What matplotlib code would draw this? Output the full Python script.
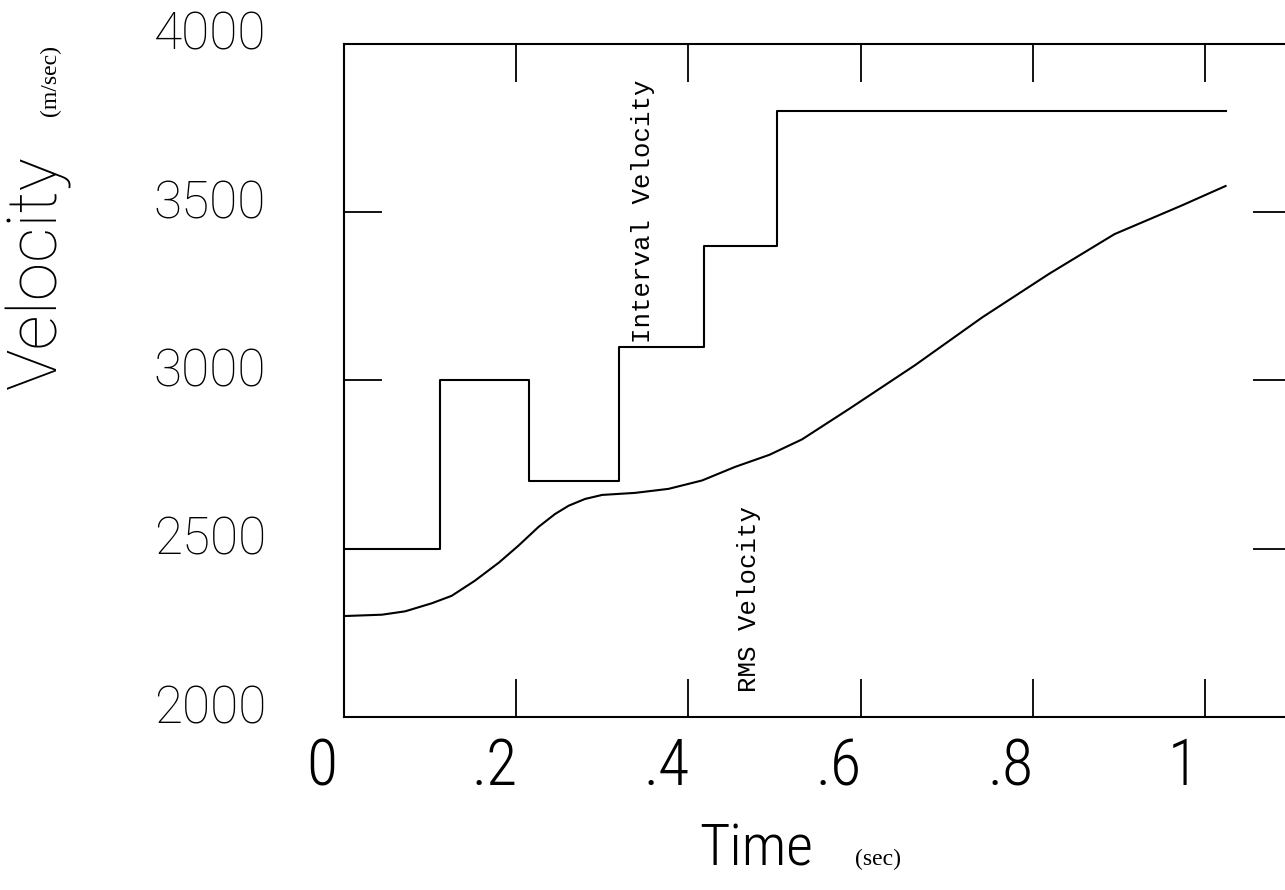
import os
import matplotlib
matplotlib.use("Agg")
import matplotlib.pyplot as plt
import matplotlib.transforms as mtransforms
from matplotlib import font_manager as fm

# ---------------- data ----------------
interval_time = [0.0, 0.112, 0.215, 0.320, 0.418, 0.503, 1.025]
interval_velocity = [2500, 3000, 2700, 3100, 3400, 3800, 3800]

rms_time = [0.0, 0.044, 0.071, 0.102, 0.125, 0.152, 0.180, 0.203, 0.226,
            0.245, 0.261, 0.280, 0.300, 0.338, 0.377, 0.416, 0.454, 0.494,
            0.532, 0.587, 0.663, 0.741, 0.819, 0.895, 0.973, 1.024]
rms_velocity = [2300, 2304, 2314, 2338, 2360, 2405, 2459, 2510, 2565,
                2603, 2628, 2648, 2660, 2666, 2678, 2703, 2743, 2779,
                2825, 2916, 3045, 3187, 3317, 3435, 3520, 3578]

x_ticks = [0, 0.2, 0.4, 0.6, 0.8, 1.0]
x_tick_labels = ["0", ".2", ".4", ".6", ".8", "1"]
y_ticks = [2000, 2500, 3000, 3500, 4000]
y_tick_labels = ["2000", "2500", "3000", "3500", "4000"]


# ---------------- fonts ----------------
def pick_font(basenames, fallback="DejaVu Sans"):
    files = {}
    for f in fm.fontManager.ttflist:
        b = os.path.splitext(os.path.basename(f.fname))[0]
        files.setdefault(b, f.fname)
    for b in basenames:
        if b in files:
            return fm.FontProperties(fname=files[b])
    return fm.FontProperties(family=fallback)


thin_cond = pick_font(["NotoSans-ExtraCondensedThin", "NotoSans-CondensedThin",
                       "NotoSans-ExtraCondensedExtraLight", "NotoSans-ExtraCondensedLight",
                       "RobotoCondensed-Thin", "RobotoCondensed-ExtraLight",
                       "RobotoCondensed-Light",
                       "DejaVuSansCondensed", "NotoSans-Thin", "Roboto-Thin",
                       "Lato-Hairline", "Lato-Thin", "DejaVuSans-ExtraLight"])
thin_wide = pick_font(["NotoSans-Thin", "NotoSans-ExtraLight", "Roboto-Thin",
                       "Lato-Hairline", "Lato-Thin", "NotoSans-Light",
                       "Roboto-Light", "Lato-Light", "OpenSans-Light",
                       "DejaVuSans-ExtraLight"])
mono = pick_font(["LiberationMono-Regular", "DejaVuSansMono"], "Liberation Mono")
serif = pick_font(["LiberationSerif-Regular", "DejaVuSerif"], "Liberation Serif")

# ---------------- figure ----------------
W, H = 1285, 890
fig = plt.figure(figsize=(W / 100, H / 100), dpi=100)
ax_left, ax_right, ax_top, ax_bottom = 344, 1291, 44, 717
ax = fig.add_axes([ax_left / W, 1 - ax_bottom / H,
                   (ax_right - ax_left) / W, (ax_bottom - ax_top) / H])

lw = 1.5
ax.step(interval_time, interval_velocity, where="post", color="black", lw=lw)
ax.plot(rms_time, rms_velocity, color="black", lw=lw)

ax.set_xlim(0, 1.1)
ax.set_ylim(2000, 4000)
for s in ax.spines.values():
    s.set_linewidth(1.5)

tick_len = 38 * 72 / 100
ax.tick_params(axis="both", which="major", direction="in", length=tick_len,
               width=1.3, top=True, right=True, color="black")

ax.set_xticks(x_ticks)
ax.set_xticklabels(x_tick_labels, fontproperties=thin_cond, fontsize=46)
ax.tick_params(axis="x", pad=14)
ax.set_yticks(y_ticks)
ax.set_yticklabels(y_tick_labels, fontproperties=thin_wide, fontsize=37)
ax.tick_params(axis="y", pad=(ax_left - 210) * 72 / 100)

xoff = mtransforms.ScaledTranslation(-22 / 100, 0, fig.dpi_scale_trans)
for lbl in ax.get_xticklabels():
    lbl.set_transform(lbl.get_transform() + xoff)
yoff = mtransforms.ScaledTranslation(0, 8 / 100, fig.dpi_scale_trans)
for lbl in ax.get_yticklabels():
    lbl.set_ha("center")
    lbl.set_va("center")
    lbl.set_transform(lbl.get_transform() + yoff)

# axis titles
ax.set_xlabel("Time", fontproperties=thin_cond, fontsize=42)
ax.xaxis.set_label_coords((756 - ax_left) / (ax_right - ax_left),
                          (ax_bottom - 850) / (ax_bottom - ax_top))
ax.xaxis.label.set_va("center")
ax.set_ylabel("Velocity", fontproperties=thin_wide, fontsize=50)
ax.yaxis.set_label_coords((38 - ax_left) / (ax_right - ax_left),
                          (ax_bottom - 272) / (ax_bottom - ax_top))
ax.yaxis.label.set_va("center")
ax.yaxis.label.set_ha("center")

fig.text(878 / W, 1 - 859 / H, "(sec)", fontproperties=serif, fontsize=17,
         ha="center", va="center")
fig.text(50 / W, 1 - 80 / H, "(m/sec)", fontproperties=serif, fontsize=17,
         ha="center", va="center", rotation=90)

# curve annotations
ax.text(0.347, 3504, "Interval Velocity", fontproperties=mono, fontsize=18.5,
        rotation=90, ha="center", va="center")
ax.text(0.470, 2351, "RMS Velocity", fontproperties=mono, fontsize=18.5,
        rotation=90, ha="center", va="center")

fig.savefig("out.png", dpi=100, facecolor="white")
